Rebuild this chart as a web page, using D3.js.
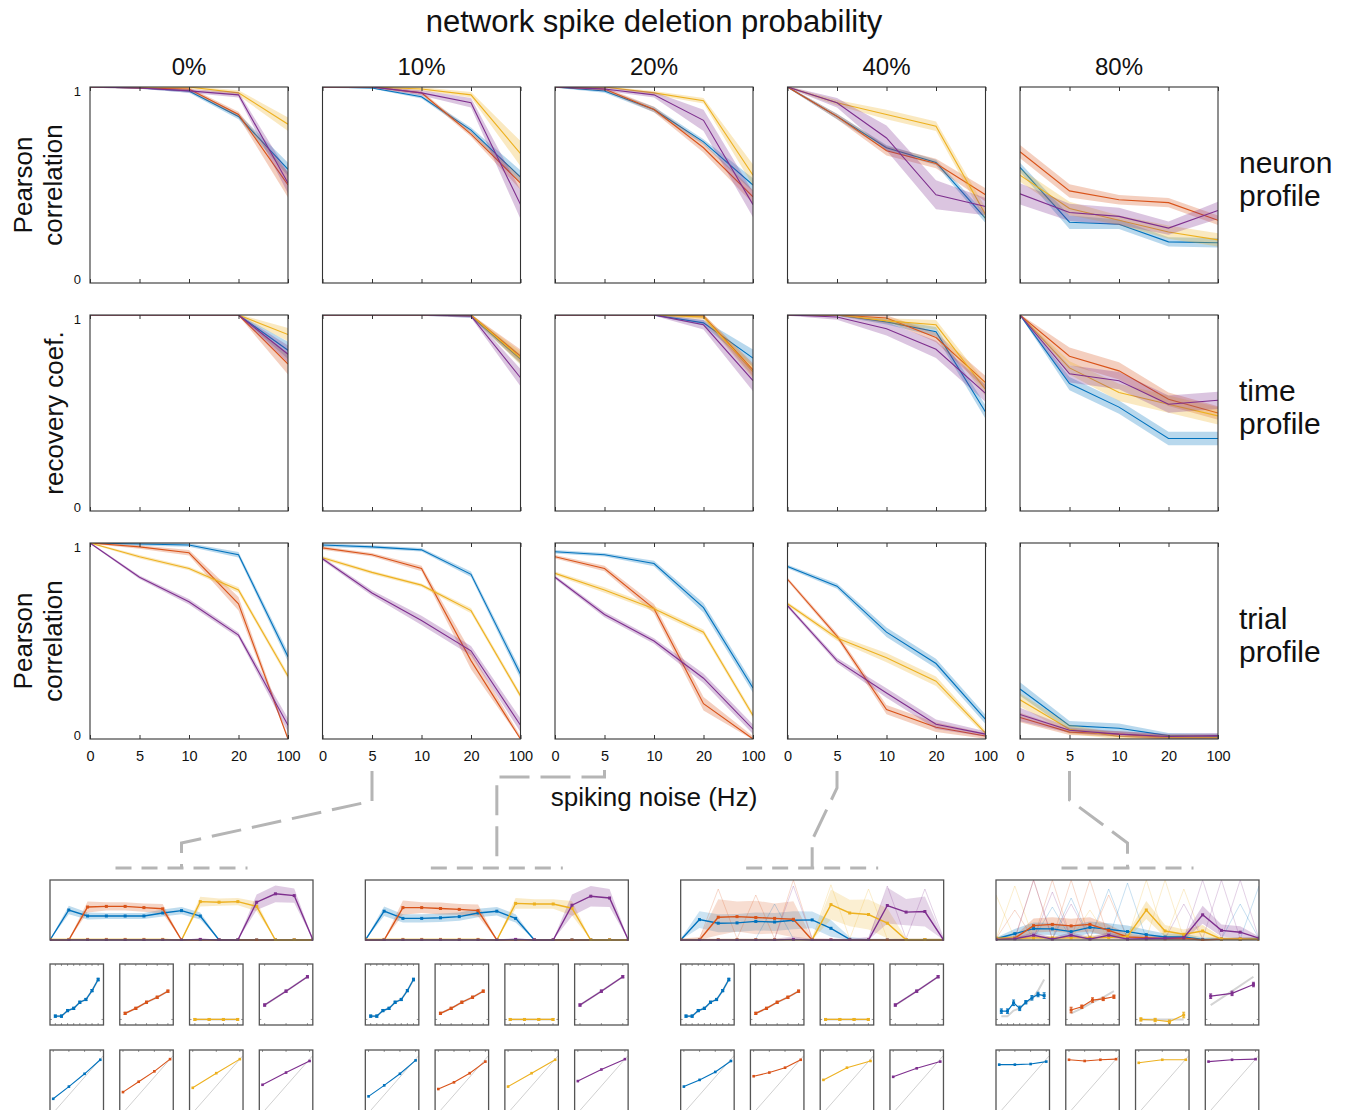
<!DOCTYPE html>
<html>
<head>
<meta charset="utf-8">
<script src="https://cdn.jsdelivr.net/npm/d3@7"></script>
<style>
  body { margin: 0; background: #fff; }
  text { font-family: "Liberation Sans", Arial, sans-serif; fill: #111; }
</style>
</head>
<body>
<svg id="fig" width="1352" height="1110"></svg>
<script>
// ---- data ----
const noiseLevels = ["0", "5", "10", "20", "100"];
const deletionLevels = ["0%", "10%", "20%", "40%", "80%"];
const seriesColors = ["#0072BD", "#D95319", "#EDB120", "#7E2F8E"];
const rowLabels = [["Pearson", "correlation"], ["recovery coef."], ["Pearson", "correlation"]];
const profileNames = [["neuron", "profile"], ["time", "profile"], ["trial", "profile"]];

// [column][series] -> value per noise level (blue, red, yellow, purple)
const neuronMean = [
  [[1, 0.995, 0.98, 0.85, 0.58], [1, 0.995, 0.99, 0.86, 0.50], [1, 1, 1, 0.97, 0.81], [1, 0.995, 0.98, 0.96, 0.51]],
  [[1, 0.995, 0.95, 0.78, 0.54], [1, 1, 0.97, 0.76, 0.51], [1, 1, 0.99, 0.96, 0.66], [1, 1, 0.97, 0.92, 0.40]],
  [[1, 0.98, 0.885, 0.72, 0.50], [1, 0.99, 0.885, 0.69, 0.44], [1, 1, 0.97, 0.93, 0.55], [1, 0.99, 0.96, 0.83, 0.40]],
  [[1, 0.85, 0.69, 0.615, 0.33], [1, 0.85, 0.675, 0.61, 0.45], [1, 0.92, 0.86, 0.80, 0.35], [1, 0.92, 0.74, 0.45, 0.39]],
  [[0.59, 0.31, 0.30, 0.21, 0.205], [0.67, 0.47, 0.425, 0.41, 0.32], [0.55, 0.38, 0.32, 0.26, 0.22], [0.455, 0.36, 0.34, 0.28, 0.37]]
];
const neuronErr = [
  [[0, 0, 0.005, 0.01, 0.03], [0, 0, 0.005, 0.01, 0.06], [0, 0, 0.005, 0.01, 0.03], [0, 0, 0.005, 0.01, 0.05]],
  [[0, 0, 0.005, 0.01, 0.03], [0, 0, 0.005, 0.01, 0.03], [0, 0, 0.005, 0.01, 0.06], [0, 0, 0.01, 0.02, 0.07]],
  [[0, 0.005, 0.01, 0.01, 0.03], [0, 0.005, 0.01, 0.02, 0.03], [0, 0, 0.005, 0.01, 0.05], [0, 0.005, 0.01, 0.05, 0.06]],
  [[0, 0.01, 0.01, 0.01, 0.02], [0, 0.01, 0.02, 0.02, 0.03], [0, 0.01, 0.02, 0.02, 0.03], [0, 0.02, 0.06, 0.07, 0.04]],
  [[0.02, 0.03, 0.02, 0.02, 0.02], [0.03, 0.03, 0.02, 0.02, 0.02], [0.03, 0.03, 0.02, 0.03, 0.03], [0.05, 0.04, 0.04, 0.03, 0.04]]
];
const timeMean = [
  [[1, 1, 1, 1, 0.82], [1, 1, 1, 1, 0.75], [1, 1, 1, 1, 0.90], [1, 1, 1, 1, 0.80]],
  [[1, 1, 1, 0.995, 0.775], [1, 1, 1, 1, 0.79], [1, 1, 1, 1, 0.78], [1, 1, 1, 0.995, 0.68]],
  [[1, 1, 1, 0.96, 0.78], [1, 1, 1, 0.995, 0.72], [1, 1, 1, 0.99, 0.71], [1, 1, 1, 0.95, 0.665]],
  [[1, 1, 0.965, 0.915, 0.505], [1, 1, 0.985, 0.885, 0.655], [1, 1, 0.97, 0.95, 0.62], [1, 0.99, 0.93, 0.825, 0.60]],
  [[1, 0.65, 0.53, 0.37, 0.37], [1, 0.79, 0.715, 0.57, 0.50], [1, 0.73, 0.605, 0.545, 0.485], [1, 0.70, 0.665, 0.545, 0.565]]
];
const timeErr = [
  [[0, 0, 0, 0, 0.04], [0, 0, 0, 0, 0.05], [0, 0, 0, 0, 0.03], [0, 0, 0, 0, 0.04]],
  [[0, 0, 0, 0.005, 0.02], [0, 0, 0, 0.005, 0.03], [0, 0, 0, 0.005, 0.03], [0, 0, 0, 0.005, 0.04]],
  [[0, 0, 0, 0.01, 0.04], [0, 0, 0, 0.01, 0.03], [0, 0, 0, 0.01, 0.03], [0, 0, 0, 0.02, 0.05]],
  [[0, 0, 0.01, 0.02, 0.03], [0, 0, 0.01, 0.02, 0.03], [0, 0, 0.01, 0.02, 0.03], [0, 0.01, 0.03, 0.04, 0.04]],
  [[0, 0.03, 0.03, 0.03, 0.03], [0, 0.04, 0.04, 0.03, 0.03], [0, 0.03, 0.04, 0.04, 0.04], [0, 0.04, 0.04, 0.04, 0.04]]
];
const trialMean = [
  [[1, 0.995, 0.99, 0.94, 0.42], [1, 0.98, 0.95, 0.69, 0.0], [1, 0.93, 0.87, 0.76, 0.32], [1, 0.825, 0.70, 0.53, 0.07]],
  [[0.99, 0.98, 0.965, 0.84, 0.33], [0.975, 0.94, 0.87, 0.40, 0.0], [0.925, 0.85, 0.785, 0.655, 0.22], [0.92, 0.745, 0.605, 0.45, 0.07]],
  [[0.955, 0.94, 0.895, 0.67, 0.26], [0.93, 0.87, 0.665, 0.18, 0.0], [0.845, 0.76, 0.665, 0.545, 0.12], [0.825, 0.635, 0.50, 0.31, 0.05]],
  [[0.88, 0.78, 0.545, 0.385, 0.10], [0.815, 0.525, 0.15, 0.06, 0.015], [0.69, 0.515, 0.415, 0.295, 0.03], [0.68, 0.40, 0.235, 0.075, 0.025]],
  [[0.255, 0.068, 0.055, 0.017, 0.013], [0.11, 0.035, 0.025, 0.008, 0.008], [0.20, 0.05, 0.013, 0.008, 0.008], [0.125, 0.045, 0.025, 0.013, 0.017]]
];
const trialErr = [
  [[0, 0.005, 0.005, 0.01, 0.02], [0, 0.005, 0.01, 0.03, 0.01], [0, 0.005, 0.005, 0.01, 0.01], [0, 0.005, 0.01, 0.01, 0.03]],
  [[0.005, 0.005, 0.005, 0.01, 0.02], [0.005, 0.005, 0.01, 0.04, 0.01], [0.005, 0.005, 0.005, 0.01, 0.01], [0.005, 0.01, 0.02, 0.02, 0.03]],
  [[0.005, 0.005, 0.01, 0.02, 0.02], [0.005, 0.01, 0.02, 0.03, 0.01], [0.005, 0.01, 0.01, 0.01, 0.01], [0.005, 0.01, 0.01, 0.02, 0.02]],
  [[0.005, 0.01, 0.02, 0.02, 0.02], [0.005, 0.01, 0.02, 0.02, 0.01], [0.005, 0.01, 0.02, 0.02, 0.01], [0.005, 0.01, 0.02, 0.02, 0.01]],
  [[0.03, 0.02, 0.02, 0.01, 0.01], [0.02, 0.01, 0.01, 0.01, 0.01], [0.03, 0.02, 0.01, 0.01, 0.01], [0.03, 0.01, 0.01, 0.01, 0.01]]
];

// insets: example neuron profiles (15 neurons) for noise 5 Hz at 10/20/40/80 % deletion
const neuronIds = d3.range(1, 16);
const wideMean = [
  [[0, 0.50, 0.40, 0.40, 0.40, 0.40, 0.45, 0.49, 0.40, 0, 0, 0, 0, 0, 0],
   [0, 0, 0.55, 0.56, 0.56, 0.54, 0.52, 0, 0, 0, 0, 0, 0, 0, 0],
   [0.01, 0.01, 0.01, 0.01, 0.01, 0.01, 0.01, 0, 0.64, 0.63, 0.64, 0.56, 0, 0, 0],
   [0, 0, 0, 0, 0, 0, 0, 0, 0.01, 0, 0, 0.63, 0.77, 0.74, 0]],
  [[0, 0.48, 0.36, 0.36, 0.37, 0.39, 0.45, 0.48, 0.36, 0, 0, 0, 0, 0, 0],
   [0, 0, 0.54, 0.54, 0.525, 0.51, 0.49, 0, 0, 0, 0, 0, 0, 0, 0],
   [0.01, 0.01, 0.01, 0.01, 0.01, 0.01, 0.01, 0, 0.61, 0.60, 0.60, 0.53, 0, 0, 0],
   [0, 0, 0, 0, 0, 0, 0, 0, 0.01, 0, 0, 0.58, 0.73, 0.70, 0]],
  [[0, 0.34, 0.28, 0.285, 0.31, 0.30, 0.33, 0.335, 0.195, 0.01, 0, 0, 0, 0, 0],
   [0, 0, 0.38, 0.39, 0.375, 0.36, 0.345, 0, 0, 0, 0, 0, 0, 0, 0],
   [0.005, 0.005, 0.005, 0.005, 0.005, 0.005, 0.005, 0.005, 0.59, 0.45, 0.425, 0.28, 0.005, 0.005, 0.005],
   [0, 0, 0, 0, 0, 0, 0.01, 0, 0, 0, 0, 0.575, 0.465, 0.475, 0]],
  [[0.02, 0.105, 0.19, 0.185, 0.14, 0.21, 0.18, 0.14, 0.09, 0.05, 0.05, 0.01, 0.01, 0.01, 0.02],
   [0.02, 0.03, 0.24, 0.26, 0.235, 0.26, 0.16, 0.05, 0.04, 0.02, 0.03, 0.0, 0.015, 0.015, 0.01],
   [0.03, 0.03, 0.035, 0.035, 0.035, 0.04, 0.04, 0.06, 0.50, 0.15, 0.095, 0.15, 0.015, 0.015, 0.015],
   [0.01, 0.02, 0.08, 0.015, 0.08, 0.015, 0.08, 0.015, 0.02, 0.03, 0.04, 0.42, 0.16, 0.13, 0.03]]
];
const wideSpread = [
  [[0.01, 0.07, 0.06, 0.05, 0.05, 0.05, 0.06, 0.06, 0.06, 0.01, 0.01, 0.01, 0.01, 0.01, 0.01],
   [0.01, 0.01, 0.09, 0.07, 0.07, 0.07, 0.08, 0.01, 0.01, 0.01, 0.01, 0.01, 0.01, 0.01, 0.01],
   [0.01, 0.01, 0.01, 0.01, 0.01, 0.01, 0.01, 0.01, 0.08, 0.06, 0.06, 0.08, 0.01, 0.01, 0.01],
   [0.01, 0.01, 0.01, 0.01, 0.01, 0.01, 0.01, 0.01, 0.01, 0.01, 0.01, 0.13, 0.14, 0.12, 0.01]],
  [[0.01, 0.08, 0.07, 0.07, 0.07, 0.07, 0.07, 0.07, 0.07, 0.01, 0.01, 0.01, 0.01, 0.01, 0.01],
   [0.01, 0.01, 0.12, 0.09, 0.10, 0.09, 0.10, 0.01, 0.01, 0.01, 0.01, 0.01, 0.01, 0.01, 0.01],
   [0.01, 0.01, 0.01, 0.01, 0.01, 0.01, 0.01, 0.01, 0.09, 0.08, 0.08, 0.12, 0.01, 0.01, 0.01],
   [0.01, 0.01, 0.01, 0.01, 0.01, 0.01, 0.01, 0.01, 0.02, 0.01, 0.01, 0.18, 0.17, 0.15, 0.01]],
  [[0.02, 0.14, 0.15, 0.15, 0.15, 0.15, 0.15, 0.14, 0.14, 0.04, 0.02, 0.02, 0.02, 0.02, 0.02],
   [0.02, 0.05, 0.30, 0.25, 0.28, 0.25, 0.30, 0.03, 0.02, 0.02, 0.02, 0.02, 0.02, 0.02, 0.02],
   [0.02, 0.02, 0.02, 0.02, 0.02, 0.02, 0.02, 0.02, 0.25, 0.22, 0.25, 0.25, 0.02, 0.02, 0.02],
   [0.02, 0.02, 0.02, 0.02, 0.02, 0.02, 0.05, 0.02, 0.02, 0.02, 0.05, 0.30, 0.22, 0.25, 0.02]],
  [[0.02, 0.08, 0.10, 0.10, 0.10, 0.10, 0.10, 0.10, 0.08, 0.06, 0.06, 0.03, 0.03, 0.03, 0.03],
   [0.02, 0.04, 0.12, 0.12, 0.12, 0.12, 0.10, 0.05, 0.04, 0.03, 0.03, 0.02, 0.02, 0.02, 0.02],
   [0.03, 0.03, 0.03, 0.03, 0.03, 0.04, 0.04, 0.05, 0.15, 0.10, 0.08, 0.10, 0.03, 0.03, 0.03],
   [0.02, 0.02, 0.05, 0.03, 0.05, 0.03, 0.05, 0.03, 0.03, 0.03, 0.04, 0.15, 0.10, 0.10, 0.03]]
];
// single-trial excursions drawn as faint spikes: [series, neuron index, height]
const faintSpikes = [
  [],
  [],
  [[1, 6, 1.0], [1, 2, 0.85], [1, 4, 0.75], [2, 8, 0.92], [2, 10, 0.85], [3, 6, 0.9], [3, 11, 0.9], [3, 13, 0.85], [0, 5, 0.6]],
  [[0, 3, 0.55], [0, 4, 0.7], [0, 6, 0.85], [0, 7, 0.95], [0, 13, 0.6], [0, 14, 0.9],
   [1, 1, 0.5], [1, 2, 1.0], [1, 3, 1.0], [1, 4, 1.0], [1, 5, 1.0], [1, 6, 0.75],
   [2, 0, 0.75], [2, 1, 0.9], [2, 5, 0.5], [2, 8, 1.0], [2, 9, 1.0], [2, 10, 0.85],
   [3, 2, 1.0], [3, 3, 0.8], [3, 4, 0.6], [3, 10, 0.6], [3, 11, 1.0], [3, 12, 1.0], [3, 13, 1.0]]
];

// tuning insets (rate vs. stimulus) with reference in gray
const rateRef = [[0.06, 0.06, 0.16, 0.20, 0.31, 0.36, 0.52, 0.72], [0.11, 0.20, 0.31, 0.40, 0.51], [0, 0, 0, 0], [0.26, 0.51, 0.77]];
const rateMean = [
  rateRef, rateRef, rateRef,
  [[0.15, 0.15, 0.30, 0.20, 0.31, 0.39, 0.45, 0.43], [0.17, 0.23, 0.35, 0.37, 0.41], [0.0, -0.01, -0.04, 0.08], [0.42, 0.47, 0.63]]
];
const rateErrSmall = [[0.02, 0.02, 0.02, 0.02, 0.02, 0.02, 0.02, 0.025], [0.02, 0.02, 0.02, 0.02, 0.02], [0.015, 0.015, 0.015, 0.015], [0.02, 0.02, 0.02]];
const rateErr = [
  rateErrSmall, rateErrSmall, rateErrSmall,
  [[0.04, 0.04, 0.05, 0.04, 0.03, 0.04, 0.04, 0.05], [0.05, 0.03, 0.04, 0.03, 0.03], [0.03, 0.03, 0.03, 0.05], [0.04, 0.04, 0.04]]
];
// recovered vs. true inset
const recovMean = [
  [[0.20, 0.40, 0.61, 0.84], [0.31, 0.48, 0.65, 0.85], [0.38, 0.62, 0.85], [0.43, 0.63, 0.82]],
  [[0.24, 0.42, 0.61, 0.83], [0.36, 0.47, 0.62, 0.81], [0.40, 0.62, 0.84], [0.49, 0.68, 0.85]],
  [[0.40, 0.51, 0.64, 0.82], [0.57, 0.63, 0.71, 0.84], [0.51, 0.71, 0.82], [0.56, 0.70, 0.81]],
  [[0.76, 0.76, 0.77, 0.81], [0.84, 0.82, 0.84, 0.85], [0.79, 0.84, 0.84], [0.81, 0.84, 0.85]]
];
const identityLine = [[0, -0.09], [1, 0.91]];

// ---- drawing ----
const svg = d3.select("#fig");
const axisColor = "#333";
const connectorColor = "#b5b5b5";

const panelW = 198, panelH = 196;
const colLeft = d3.scaleLinear().domain([0, 4]).range([90, 1020]);
const rowTop = d3.scaleLinear().domain([0, 2]).range([87, 543]);
const x = d3.scalePoint().domain(noiseLevels).range([0, panelW]);
const y = d3.scaleLinear().domain([0, 1]).range([panelH, 0]);

svg.append("defs").append("clipPath").attr("id", "clipMain")
  .append("rect").attr("width", panelW).attr("height", panelH);

const rows = [[neuronMean, neuronErr], [timeMean, timeErr], [trialMean, trialErr]];

rows.forEach(([means, errs], r) => {
  deletionLevels.forEach((lvl, c) => {
    const g = svg.append("g").attr("transform", `translate(${colLeft(c)},${rowTop(r)})`);
    const plot = g.append("g").attr("clip-path", "url(#clipMain)");

    means[c].forEach((vals, s) => {
      const pts = vals.map((v, i) => ({k: noiseLevels[i], v: v, e: errs[c][s][i]}));
      plot.append("path").datum(pts)
        .attr("fill", seriesColors[s]).attr("fill-opacity", 0.28).attr("stroke", "none")
        .attr("d", d3.area()
          .x(d => x(d.k))
          .y0(d => y(Math.max(0, d.v - d.e) - 0.004))
          .y1(d => y(Math.min(1, d.v + d.e) + 0.004)));
      plot.append("path").datum(pts)
        .attr("fill", "none").attr("stroke", seriesColors[s]).attr("stroke-width", 1.1)
        .attr("d", d3.line().x(d => x(d.k)).y(d => y(d.v)));
    });

    g.append("rect").attr("width", panelW).attr("height", panelH)
      .attr("fill", "none").attr("stroke", axisColor).attr("stroke-width", 1.1);

    const bottom = g.append("g").attr("transform", `translate(0,${panelH})`)
      .call(d3.axisBottom(x).tickSize(-4).tickSizeOuter(0).tickPadding(12)
        .tickFormat(r === 2 ? (d => d) : () => ""));
    const top = g.append("g").call(d3.axisTop(x).tickSize(-4).tickSizeOuter(0).tickFormat(() => ""));
    [bottom, top].forEach(a => {
      a.select(".domain").remove();
      a.selectAll("line").attr("stroke", axisColor);
      a.selectAll("text").attr("font-size", 14.5).attr("fill", "#222")
        .attr("font-family", '"Liberation Sans", Arial, sans-serif');
    });

    if (c === 0) {
      g.selectAll(".ylab").data([0, 1]).join("text")
        .attr("x", -9).attr("y", d => y(d) + (d === 1 ? 4 : -4))
        .attr("dy", "0.35em").attr("text-anchor", "end").attr("font-size", 13)
        .text(d => d);
    }
  });

  // row title on the left
  const lines = rowLabels[r];
  const cy = rowTop(r) + panelH / 2;
  lines.forEach((t, i) => {
    svg.append("text")
      .attr("transform", `translate(${lines.length === 1 ? 63 : 32 + i * 30},${cy}) rotate(-90)`)
      .attr("text-anchor", "middle").attr("font-size", 26).text(t);
  });
  // profile name on the right
  profileNames[r].forEach((t, i) => {
    svg.append("text").attr("x", 1239).attr("y", cy - 12 + i * 33)
      .attr("font-size", 30).text(t);
  });
});

svg.append("text").attr("x", 654).attr("y", 32).attr("text-anchor", "middle")
  .attr("font-size", 31).text("network spike deletion probability");
deletionLevels.forEach((lvl, c) => {
  svg.append("text").attr("x", colLeft(c) + panelW / 2).attr("y", 75)
    .attr("text-anchor", "middle").attr("font-size", 24).text(lvl);
});
svg.append("text").attr("x", 654).attr("y", 806).attr("text-anchor", "middle")
  .attr("font-size", 26).text("spiking noise (Hz)");

// ---- insets ----
const insetLeft = d3.scaleLinear().domain([0, 3]).range([50, 996]);
const wideW = 263, wideH = 60, wideTop = 880;
const smallW = 53.5, smallH = 61, smallTopA = 964, smallTopB = 1050;
const smallOff = d3.scaleLinear().domain([0, 3]).range([0, 209.3]);

const xn = d3.scalePoint().domain(neuronIds).range([0, wideW]);
const yn = d3.scaleLinear().domain([0, 1]).range([wideH, 0]);
const ya = d3.scaleLinear().domain([-0.1, 1]).range([smallH, 0]);
const yb = d3.scaleLinear().domain([0, 1]).range([smallH, 0]);
const xbLin = d3.scaleLinear().domain([0, 1]).range([0, smallW]);

const defs = svg.select("defs");
defs.append("clipPath").attr("id", "clipWide").append("rect").attr("width", wideW).attr("height", wideH + 1);
defs.append("clipPath").attr("id", "clipSmall").append("rect").attr("width", smallW).attr("height", smallH);

function frame(g, w, h) {
  g.append("rect").attr("width", w).attr("height", h).attr("fill", "none")
    .attr("stroke", "#555").attr("stroke-width", 1.3);
}
function square(g, px, py, color, size) {
  g.append("rect").attr("x", px - size / 2).attr("y", py - size / 2)
    .attr("width", size).attr("height", size).attr("fill", color);
}

d3.range(4).forEach(gi => {
  const left = insetLeft(gi);

  // wide neuron-profile panel
  const gw = svg.append("g").attr("transform", `translate(${left},${wideTop})`);
  const pw = gw.append("g").attr("clip-path", "url(#clipWide)");
  wideMean[gi].forEach((vals, s) => {
    const pts = vals.map((v, i) => ({k: neuronIds[i], v: v, e: wideSpread[gi][s][i]}));
    pw.append("path").datum(pts).attr("fill", seriesColors[s])
      .attr("fill-opacity", gi === 2 ? 0.2 : 0.25)
      .attr("d", d3.area().x(d => xn(d.k)).y0(d => yn(Math.max(0, d.v - d.e))).y1(d => yn(Math.min(1, d.v + d.e))));
  });
  faintSpikes[gi].forEach(([s, i, h]) => {
    const pts = [[Math.max(0, i - 1), 0.02], [i, h], [Math.min(14, i + 1), 0.02]];
    pw.append("path").datum(pts).attr("fill", "none")
      .attr("stroke", seriesColors[s]).attr("stroke-opacity", 0.22).attr("stroke-width", 1)
      .attr("d", d3.line().x(d => xn(neuronIds[d[0]])).y(d => yn(d[1])));
  });
  wideMean[gi].forEach((vals, s) => {
    pw.append("path").datum(vals).attr("fill", "none")
      .attr("stroke", seriesColors[s]).attr("stroke-width", 1.4)
      .attr("d", d3.line().x((d, i) => xn(neuronIds[i])).y(d => yn(d)));
    vals.forEach((v, i) => square(pw, xn(neuronIds[i]), yn(v), seriesColors[s], 3));
  });
  frame(gw, wideW, wideH);

  // small panels: row A (tuning), row B (recovery)
  d3.range(4).forEach(s => {
    const ga = svg.append("g").attr("transform", `translate(${left + smallOff(s)},${smallTopA})`);
    const vals = rateMean[gi][s];
    const xa = d3.scalePoint().domain(d3.range(vals.length)).range([smallW * 0.1, smallW * 0.9]);
    const pa = ga.append("g").attr("clip-path", "url(#clipSmall)");
    pa.append("path").datum(rateRef[s]).attr("fill", "none").attr("stroke", "#d4d4d4").attr("stroke-width", 2)
      .attr("d", d3.line().x((d, i) => xa(i)).y(d => ya(d)));
    pa.append("path").datum(vals).attr("fill", "none").attr("stroke", seriesColors[s]).attr("stroke-width", 1.2)
      .attr("d", d3.line().x((d, i) => xa(i)).y(d => ya(d)));
    vals.forEach((v, i) => {
      const e = rateErr[gi][s][i];
      pa.append("path").attr("stroke", seriesColors[s]).attr("stroke-width", 1).attr("fill", "none")
        .attr("d", `M${xa(i)},${ya(v - e)}V${ya(v + e)}M${xa(i) - 1.5},${ya(v - e)}h3M${xa(i) - 1.5},${ya(v + e)}h3`);
      square(pa, xa(i), ya(v), seriesColors[s], 3);
    });
    ga.selectAll(".tk").data(xa.domain()).join("path").attr("stroke", "#555").attr("stroke-width", 0.6)
      .attr("d", d => `M${xa(d)},0v2M${xa(d)},${smallH}v-2`);
    ga.append("path").attr("stroke", "#555").attr("stroke-width", 0.6)
      .attr("d", `M0,${ya(0)}h2M${smallW},${ya(0)}h-2`);
    frame(ga, smallW, smallH);

    const gb = svg.append("g").attr("transform", `translate(${left + smallOff(s)},${smallTopB})`);
    const rv = recovMean[gi][s];
    const xb = d3.scalePoint().domain(d3.range(rv.length)).range([smallW * 0.06, smallW * 0.94]);
    const pb = gb.append("g").attr("clip-path", "url(#clipSmall)");
    pb.append("path").datum(identityLine).attr("fill", "none").attr("stroke", "#d0d0d0").attr("stroke-width", 1)
      .attr("d", d3.line().x(d => xbLin(d[0])).y(d => yb(d[1])));
    pb.append("path").datum(rv).attr("fill", "none").attr("stroke", seriesColors[s]).attr("stroke-width", 1.1)
      .attr("d", d3.line().x((d, i) => xb(i)).y(d => yb(d)));
    rv.forEach((v, i) => square(pb, xb(i), yb(v), seriesColors[s], 2.6));
    gb.selectAll(".tk").data(xb.domain()).join("path").attr("stroke", "#555").attr("stroke-width", 0.6)
      .attr("d", d => `M${xb(d)},0v2`);
    frame(gb, smallW, smallH + 2);
  });
});

// ---- dashed connectors from the 5 Hz ticks to the insets ----
const tickY = rowTop(2) + panelH + 30;
const hubY = 868;
const hubX = d3.range(4).map(gi => insetLeft(gi) + wideW / 2);
const srcX = [1, 2, 3, 4].map(c => colLeft(c) + x("5"));
const connectorPaths = [
  [[srcX[0], tickY + 2], [srcX[0], 801], [hubX[0], 843], [hubX[0], hubY]],
  [[srcX[1], tickY + 1], [srcX[1], 777], [hubX[1], 777], [hubX[1], hubY]],
  [[srcX[2], tickY + 2], [srcX[2], 788], [hubX[2], 840], [hubX[2], hubY]],
  [[srcX[3], tickY + 2], [srcX[3], 800], [hubX[3], 843], [hubX[3], hubY]]
];
const conn = svg.append("g").attr("fill", "none").attr("stroke", connectorColor)
  .attr("stroke-width", 3);
connectorPaths.forEach(p => {
  conn.append("path").attr("d", d3.line()(p)).attr("stroke-dasharray", "30,11");
});
hubX.forEach(hx => {
  conn.append("path").attr("d", `M${hx - 66},${hubY}H${hx + 66}`).attr("stroke-dasharray", "16,10");
});
</script>
</body>
</html>
